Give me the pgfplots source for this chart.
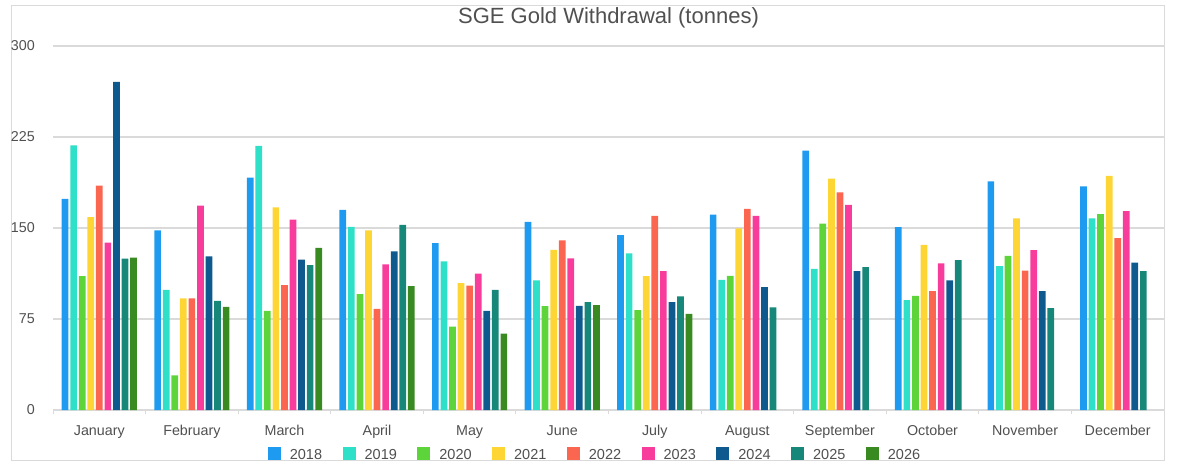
\documentclass[border=0pt]{standalone}
\usepackage{fontspec}
\setmainfont{Liberation Sans}
\usepackage{pgfplots}
\pgfplotsset{compat=1.18}
\definecolor{c18}{HTML}{1E9BF0}
\definecolor{c19}{HTML}{2EE0C8}
\definecolor{c20}{HTML}{5DD43A}
\definecolor{c21}{HTML}{FDD535}
\definecolor{c22}{HTML}{FA6650}
\definecolor{c23}{HTML}{F83C9C}
\definecolor{c24}{HTML}{0E5A8E}
\definecolor{c25}{HTML}{17877A}
\definecolor{c26}{HTML}{3A8A22}
\definecolor{txt}{HTML}{505050}
\definecolor{gridc}{HTML}{DADADA}
\begin{document}
\begin{tikzpicture}
\path[use as bounding box] (0,0) rectangle (1199pt,469pt);
\draw[gridc, line width=0.8pt] (11pt,9pt) rectangle (1164pt,464pt);
\node[txt, font=\fontsize{22}{24}\selectfont] at (608.5pt,451pt) {SGE Gold Withdrawal (tonnes)};
\begin{axis}[
  at={(53pt,59pt)}, anchor=south west,
  scale only axis, width=1111pt, height=364pt,
  xmin=-0.5, xmax=11.5, ymin=0, ymax=300,
  ybar=1.86pt, bar width=6.7pt,
  axis line style={draw=none},
  ytick={0,75,150,225,300},
  xtick={0,...,11},
  xticklabels={January,February,March,April,May,June,July,August,September,October,November,December},
  minor xtick={-0.5,0.5,...,11.5},
  major tick length=0pt, minor tick length=4pt,
  tick align=outside, tick pos=left,
  minor tick style={gridc, line width=1pt},
  ymajorgrids, major grid style={gridc, line width=1.2pt},
  /pgf/number format/assume math mode=true,
  tick label style={txt, font=\fontsize{14.3}{16}\selectfont},
  xticklabel style={anchor=base, yshift=-25pt},
  yticklabel style={anchor=east, inner sep=0pt, xshift=-18pt},
  legend columns=9,
  legend image code/.code={\fill[#1] (0pt,-4pt) rectangle (13pt,9pt);},
  legend style={draw=none, fill=none, at={(axis description cs:0.489,-0.1235)}, anchor=center,
    font=\fontsize{14.5}{16}\selectfont, text=txt,
    nodes={inner xsep=4.5pt},
    /tikz/every odd column/.append style={column sep=4.5pt},
    /tikz/every even column/.append style={column sep=16pt}},
  every axis plot/.append style={draw=none},
]
\addplot[fill=c18] coordinates {(0,174) (1,148) (2,191.5) (3,165) (4,137.6) (5,155) (6,144.2) (7,161) (8,213.8) (9,150.8) (10,188.5) (11,184.4)};
\addplot[fill=c19] coordinates {(0,218) (1,99) (2,217.7) (3,151) (4,122.5) (5,106.8) (6,129) (7,107.3) (8,116.4) (9,90.5) (10,118.6) (11,158)};
\addplot[fill=c20] coordinates {(0,110.4) (1,28.6) (2,81.7) (3,95.5) (4,68.8) (5,85.6) (6,82.3) (7,110.6) (8,153.6) (9,94) (10,127) (11,161.5)};
\addplot[fill=c21] coordinates {(0,159) (1,92) (2,167) (3,148) (4,104.6) (5,132) (6,110.4) (7,149.7) (8,190.7) (9,136) (10,158) (11,193)};
\addplot[fill=c22] coordinates {(0,185) (1,92) (2,103) (3,83.4) (4,102.6) (5,139.8) (6,160) (7,165.7) (8,179.4) (9,98) (10,114.8) (11,141.7)};
\addplot[fill=c23] coordinates {(0,138) (1,168.4) (2,157) (3,120) (4,112.3) (5,125) (6,114.5) (7,160) (8,169) (9,120.8) (10,131.8) (11,164)};
\addplot[fill=c24] coordinates {(0,270.5) (1,126.6) (2,124) (3,130.7) (4,81.7) (5,85.9) (6,88.9) (7,101.3) (8,114.5) (9,106.8) (10,98) (11,121.4)};
\addplot[fill=c25] coordinates {(0,124.7) (1,90) (2,119.4) (3,152.5) (4,99) (5,88.9) (6,93.6) (7,84.5) (8,117.8) (9,123.6) (10,84) (11,114.5)};
\addplot[fill=c26] coordinates {(0,125.5) (1,85) (2,133.7) (3,102) (4,63) (5,86.4) (6,79.3)};
\legend{2018,2019,2020,2021,2022,2023,2024,2025,2026}
\end{axis}
\end{tikzpicture}
\end{document}
